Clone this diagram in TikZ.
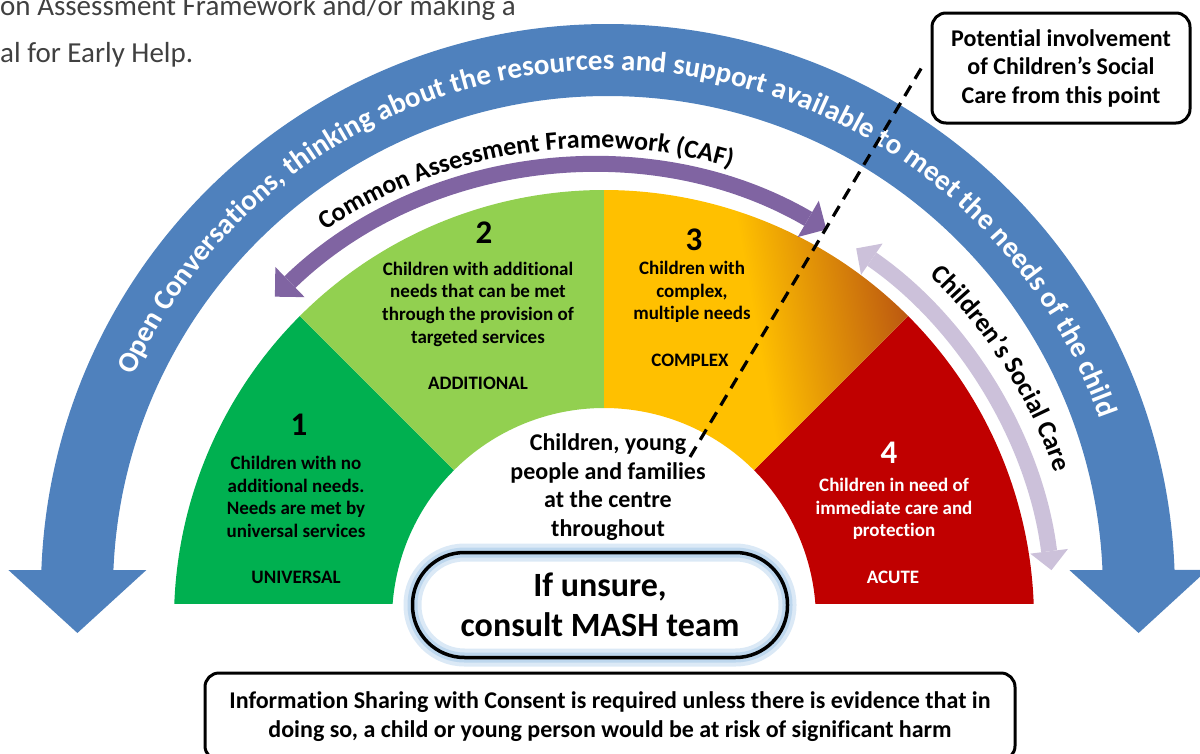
\documentclass[tikz,border=0pt]{standalone}
\usepackage{fontspec}
\setmainfont{Carlito}[Ligatures=NoCommon]
\usetikzlibrary{arrows.meta, decorations.text, positioning}
\definecolor{convblue}{HTML}{4F81BD}
\definecolor{cafpurple}{HTML}{8064A2}
\definecolor{csclilac}{HTML}{CCC1DA}
\definecolor{univgreen}{HTML}{00B050}
\definecolor{addgreen}{HTML}{92D050}
\definecolor{compamber}{HTML}{FFC000}
\definecolor{compbrown}{HTML}{BD5A10}
\definecolor{acutered}{HTML}{C00000}
\definecolor{mashglow}{HTML}{BDD7EE}
\definecolor{docgrey}{HTML}{404040}

\begin{document}
\begin{tikzpicture}[x=1pt, y=1pt,
  segtext/.style={font=\bfseries\fontsize{19}{22.7}\selectfont, align=center, inner sep=0pt},
  segnum/.style={font=\bfseries\fontsize{33}{36}\selectfont, inner sep=0pt},
  notebox/.style={draw, line width=3pt, rounded corners=14pt, fill=white, align=center, font=\bfseries\fontsize{24}{28.5}\selectfont},
  mashbox/.style={rounded corners=52pt, minimum width=375pt, minimum height=105pt},
  doctext/.style={anchor=base west, inner sep=0pt, text=docgrey, font=\fontsize{29}{35}\selectfont}]
\useasboundingbox (0,0) rectangle (1200,-753);

% text cut from the page above
\node[doctext] (doc1) at (0,-15) {on Assessment Framework and/or making a};
\node[doctext] (doc2) at (0,-62) {al for Early Help.};

% open conversations band
\coordinate (convL) at (77.4,-633);
\coordinate (convR) at (1138.6,-633);
\draw[convblue, line width=72pt, {Triangle[width=138pt,length=63pt,line width=0pt]}-{Triangle[width=138pt,length=63pt,line width=0pt]}]
  (convL) -- (77.4,-569.7) arc[start angle=177.7, end angle=2.3, radius=531pt] -- (convR);
\path[decorate, decoration={text along path, text align=center, text color=white,
  text={|\bfseries\fontsize{29}{32}\selectfont|Open Conversations, thinking about the resources and support available to meet the needs of the child}}]
  ([shift={(175.5:521)}]608,-591) arc[start angle=175.5, end angle=-0.5, radius=521pt];

% fan of levels
\begin{scope}
\clip (0,-603) rectangle (1200,0);
\foreach \a/\c in {135/univgreen, 90/addgreen, 0/acutered}
  \fill[\c, shift={(604,-620)}] (\a:212) -- (\a:430) arc[start angle=\a, end angle=\a+45, radius=430pt]
    -- (\a+45:212) arc[start angle=\a+45, end angle=\a, radius=212pt] -- cycle;
\shade[left color=compamber, right color=compbrown, middle color=compamber, shading angle=100, shift={(604,-620)}]
  (45:212) -- (45:430) arc[start angle=45, end angle=90, radius=430pt]
  -- (90:212) arc[start angle=90, end angle=45, radius=212pt] -- cycle;
\end{scope}

% CAF and social care arrows
\draw[cafpurple, line width=16pt, {Triangle[width=42pt,length=21pt,line width=0pt]}-{Triangle[width=42pt,length=21pt,line width=0pt]}]
  ([shift={(134.1:460)}]595,-627) arc[start angle=134.1, end angle=59.8, radius=460pt];
\draw[csclilac, line width=16pt, {Triangle[width=38pt,length=19pt,line width=0pt]}-{Triangle[width=38pt,length=19pt,line width=0pt]}]
  ([shift={(55.4:460)}]595,-627) arc[start angle=55.4, end angle=7.1, radius=460pt];
\path[decorate, decoration={text along path, text align=center,
  text={|\bfseries\fontsize{26}{30}\selectfont|Common Assessment Framework (CAF)}}]
  ([shift={(143.9:479)}]595,-627) arc[start angle=143.9, end angle=53.9, radius=479pt];
\path[decorate, decoration={text along path, text align=center,
  text={|\bfseries\fontsize{26.5}{30}\selectfont|Children’s Social Care}}]
  ([shift={(62.5:485)}]595,-627) arc[start angle=62.5, end angle=2.5, radius=485pt];

% 1
\node[segnum] (num1) at (299,-425) {1};
\node[segtext] (desc1) at (296,-497) {Children with no\\additional needs.\\Needs are met by\\universal services};
\node[segtext] (lvl1) at (296,-577) {UNIVERSAL};
% 2
\node[segnum] (num2) at (484,-233) {2};
\node[segtext] (desc2) at (478,-304) {Children with additional\\needs that can be met\\through the provision of\\targeted services};
\node[segtext] (lvl2) at (478,-383) {ADDITIONAL};
% 3
\node[segnum] (num3) at (694,-240) {3};
\node[segtext] (desc3) at (692,-292) {Children with\\complex,\\multiple needs};
\node[segtext] (lvl3) at (690,-360) {COMPLEX};
% 4
\node[segnum, text=white] (num4) at (889,-453) {4};
\node[segtext, text=white] (desc4) at (894,-509) {Children in need of\\immediate care and\\protection};
\node[segtext, text=white] (lvl4) at (893,-577) {ACUTE};

\node[font=\bfseries\fontsize{24}{28.7}\selectfont, align=center] (centre) at (608,-487) {Children, young\\people and families\\at the centre\\throughout};

% threshold for social care
\coordinate (threshlow) at (690,-457);
\coordinate (threshhigh) at (922,-67);
\draw[line width=3.2pt, dash pattern=on 12pt off 8pt] (threshlow) -- (threshhigh);

\node[notebox, minimum width=258pt, minimum height=110pt] (involve) at (1061,-68) {Potential involvement\\of Children’s Social\\Care from this point};

\node[mashbox, draw=mashglow!55, line width=18pt] (mashouter) at (600,-605) {};
\node[mashbox, draw=mashglow, line width=10pt] (mashinner) at (600,-605) {};
\node[mashbox, draw, line width=3.5pt, align=center, font=\bfseries\fontsize{34}{39.5}\selectfont] (mash) at (600,-605) {If unsure,\\consult MASH team};

\node[notebox, font=\bfseries\fontsize{24}{29}\selectfont, minimum width=810pt, minimum height=87pt] (consent) at (610,-716.5) {Information Sharing with Consent is required unless there is evidence that in\\doing so, a child or young person would be at risk of significant harm};
\end{tikzpicture}
\end{document}
